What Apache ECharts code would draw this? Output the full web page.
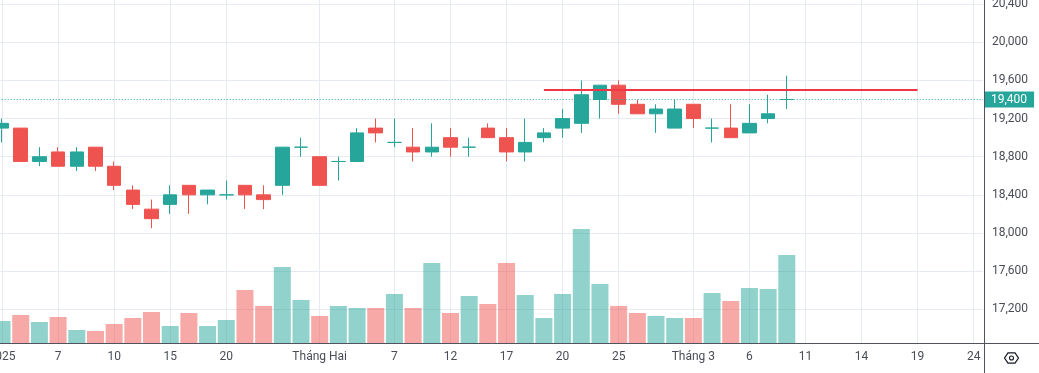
<!DOCTYPE html>
<html>
<head>
<meta charset="utf-8">
<script src="https://cdn.jsdelivr.net/npm/echarts@6/dist/echarts.min.js"></script>
<style>
html,body{margin:0;padding:0;background:#fff;}
#chart{width:1039px;height:373px;}
</style>
</head>
<body>
<div id="chart"></div>
<script>
// Trading days (plus future empty days on the axis)
const dates = [
  '2025-01-02','2025-01-03','2025-01-06','2025-01-07','2025-01-08','2025-01-09','2025-01-10',
  '2025-01-13','2025-01-14','2025-01-15','2025-01-16','2025-01-17','2025-01-20','2025-01-21',
  '2025-01-22','2025-01-23','2025-01-24',
  '2025-02-03','2025-02-04','2025-02-05','2025-02-06','2025-02-07','2025-02-10','2025-02-11',
  '2025-02-12','2025-02-13','2025-02-14','2025-02-17','2025-02-18','2025-02-19','2025-02-20',
  '2025-02-21','2025-02-24','2025-02-25','2025-02-26','2025-02-27','2025-02-28',
  '2025-03-03','2025-03-04','2025-03-05','2025-03-06','2025-03-07','2025-03-10',
  '2025-03-11','2025-03-12','2025-03-13','2025-03-14','2025-03-17','2025-03-18','2025-03-19',
  '2025-03-20','2025-03-21','2025-03-24'
];
const open  = [19100,19100,18750,18850,18700,18900,18700,18450,18250,18300,18500,18400,18400,18500,18400,18500,18900,
               18800,18750,18750,19100,18950,18900,18850,19000,18900,19100,19000,18850,19000,19100,19150,19400,19550,19350,19250,19100,
               19350,19100,19100,19050,19200,19400];
const high  = [19200,19100,18900,18900,18900,18900,18750,18500,18350,18500,18500,18450,18550,18500,18500,18900,19000,
               18800,18800,19100,19200,19200,19100,19150,19100,19000,19150,19100,19200,19100,19300,19600,19550,19600,19400,19350,19400,
               19350,19200,19350,19350,19450,19650];
const low   = [18950,18750,18700,18700,18650,18650,18450,18250,18050,18200,18200,18300,18350,18250,18250,18400,18800,
               18500,18550,18750,18950,18900,18750,18800,18800,18800,19000,18750,18750,18950,19000,19050,19200,19250,19250,19050,19100,
               19100,18950,19000,19050,19150,19300];
const close = [19150,18750,18800,18700,18850,18700,18500,18300,18150,18400,18400,18450,18400,18400,18350,18900,18900,
               18500,18750,19050,19050,18950,18850,18900,18900,18900,19000,18850,18950,19050,19200,19450,19550,19350,19250,19300,19300,
               19200,19100,19000,19150,19250,19400];
// Volume (thousand shares)
const volume = [440,560,420,520,260,240,380,500,620,340,600,340,460,1060,740,1520,860,
                540,740,700,700,980,700,1600,600,940,780,1600,960,500,980,2280,1180,740,600,540,500,
                500,1000,840,1100,1080,1760];
// Axis tick labels
const tickDates = ['2025-01-02','2025-01-07','2025-01-10','2025-01-15','2025-01-20','2025-02-03','2025-02-07',
                   '2025-02-12','2025-02-17','2025-02-20','2025-02-25','2025-03-03','2025-03-06','2025-03-11',
                   '2025-03-14','2025-03-19','2025-03-24'];
const tickTexts = ['2025','7','10','15','20','Tháng Hai','7','12','17','20','25','Tháng 3','6','11','14','19','24'];
const resistanceLevel = 19500;
const resistanceFrom = '2025-02-19';
const resistanceTo = '2025-03-19';

const upColor = '#26a69a', downColor = '#ef5350';
const upVol = 'rgba(38,166,154,0.5)', downVol = 'rgba(239,83,80,0.5)';
const lastClose = close[close.length - 1];

const tickMap = {};
tickDates.forEach((d, i) => { tickMap[d] = tickTexts[i]; });
const isTick = (idx, val) => tickMap[val] !== undefined;

function up(i) { return close[i] >= open[i]; }
const candleData = open.map((o, i) => {
  const c = up(i) ? upColor : downColor;
  return { value: [o, close[i], low[i], high[i]],
           itemStyle: { color: c, color0: c, borderColor: c, borderColor0: c } };
});
const volData = volume.map((v, i) => ({ value: v, itemStyle: { color: up(i) ? upVol : downVol } }));

const fmt = v => v.toLocaleString('en-US');
const textColor = '#4a4d57';
const gridColor = '#e6ebf1';
const axisColor = '#50535e';

const chart = echarts.init(document.getElementById('chart'), null, { renderer: 'canvas' });
chart.setOption({
  animation: false,
  backgroundColor: '#ffffff',
  textStyle: { fontFamily: 'Roboto, sans-serif' },
  grid: [
    { left: -7.3, right: 56, top: 4.16, bottom: 25.6, outerBoundsMode: 'none' },
    { left: -7.3, right: 56, top: 0, bottom: 30, outerBoundsMode: 'none' }
  ],
  xAxis: [
    { type: 'category', gridIndex: 0, data: dates, boundaryGap: true, show: false },
    { type: 'category', gridIndex: 1, data: dates, boundaryGap: true,
      axisLine: { show: true, lineStyle: { color: axisColor, width: 1 } },
      axisTick: { show: false },
      axisLabel: { interval: isTick, formatter: (val) => tickMap[val] || '', color: textColor,
                   fontSize: 12, margin: 8 },
      splitLine: { show: true, interval: isTick, alignWithLabel: true, lineStyle: { color: gridColor, width: 1 } }
    }
  ],
  yAxis: [
    { type: 'value', gridIndex: 0, position: 'right', offset: 1, min: 16800, max: 20400, interval: 400,
      axisLine: { show: true, lineStyle: { color: axisColor, width: 1 } },
      axisTick: { show: false },
      axisLabel: { showMinLabel: false, showMaxLabel: true, formatter: fmt, color: textColor, fontSize: 12, margin: 8 },
      splitLine: { show: true, showMinLine: false, lineStyle: { color: gridColor, width: 1 } }
    },
    { type: 'value', gridIndex: 1, min: 0, max: 6860, show: false, splitLine: { show: false } }
  ],
  series: [
    { type: 'bar', name: 'Volume', xAxisIndex: 1, yAxisIndex: 1, data: volData, barWidth: 17, silent: true },
    { type: 'candlestick', name: 'Price', xAxisIndex: 0, yAxisIndex: 0, data: candleData, barWidth: 14,
      silent: true,
      markLine: {
        silent: true, animation: false, symbol: ['none', 'none'],
        data: [
          { yAxis: lastClose,
            lineStyle: { color: upColor, type: [1, 2], width: 1 },
            label: { show: true, position: 'end', distance: 2, formatter: () => fmt(lastClose),
                     color: '#ffffff', backgroundColor: upColor, padding: [2, 7, 2, 6], fontSize: 12 } },
          [ { coord: [resistanceFrom, resistanceLevel], lineStyle: { color: '#f23645', width: 2, type: 'solid' },
              label: { show: false } },
            { coord: [resistanceTo, resistanceLevel] } ]
        ]
      }
    }
  ],
  graphic: [
    { type: 'line', shape: { x1: 984.5, y1: 0, x2: 984.5, y2: 6 }, style: { stroke: axisColor, lineWidth: 1 }, silent: true },
    { type: 'line', shape: { x1: 984.5, y1: 343, x2: 984.5, y2: 373 }, style: { stroke: axisColor, lineWidth: 1 }, silent: true },
    { type: 'line', shape: { x1: 982, y1: 343.5, x2: 1039, y2: 343.5 }, style: { stroke: axisColor, lineWidth: 1 }, silent: true },
    { type: 'polygon', shape: { points: [[1004.5,358],[1008,352.8],[1015,352.8],[1018.5,358],[1015,363.2],[1008,363.2]] },
      style: { fill: 'none', stroke: '#131722', lineWidth: 1.2 }, silent: true },
    { type: 'circle', shape: { cx: 1011.5, cy: 358, r: 2 }, style: { fill: 'none', stroke: '#131722', lineWidth: 1.1 }, silent: true }
  ]
});
</script>
</body>
</html>
